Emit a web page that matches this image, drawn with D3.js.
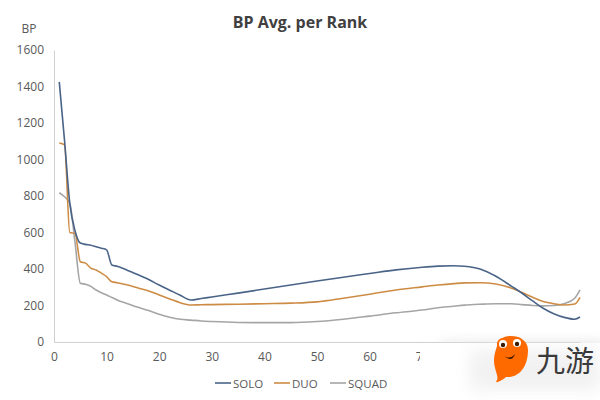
<!DOCTYPE html>
<html><head><meta charset="utf-8">
<script src="https://cdn.jsdelivr.net/npm/d3@7/dist/d3.min.js"></script>
<style>
body{margin:0;background:#fff;}
svg{display:block;font-family:"Open Sans","Noto Sans",sans-serif;}
</style></head>
<body><svg id="c" width="600" height="400"></svg>
<script>
const ranks = [1,2,3,4,5,6,7,8,9,10,11,12,14,16,18,20,22,24,26,28,30,35,40,45,50,55,60,65,70,73,76,78,81,84,87,89,91,93,95,97,99,100];
const solo  = [1425,1105,760,610,542,535,530,522,514,505,422,415,392,368,342,312,284,256,230,238,247,268,290,312,334,355,375,395,410,416,418,415,400,360,305,267,225,185,155,135,125,137];
const duo   = [1090,1080,600,595,440,432,405,395,377,358,330,325,312,296,280,258,236,215,203,204,205,207,210,213,220,240,262,285,302,312,320,324,325,318,295,271,245,222,210,203,208,245];
const squad = [818,796,760,545,322,316,305,285,270,258,244,230,210,190,172,152,136,125,120,115,112,107,106,106,112,125,142,160,175,188,196,202,207,210,210,205,200,198,200,210,240,285];
const yTicks = [0,200,400,600,800,1000,1200,1400,1600];
const xTicks = [0,10,20,30,40,50,60,70];
const seriesNames = ["SOLO","DUO","SQUAD"];
const colors = ["#4a6488","#cd8c45","#a5a5a5"];

const svg = d3.select("#c");
const x = d3.scaleLinear().domain([0,100]).range([54,580]);
const y = d3.scaleLinear().domain([0,1600]).range([342,50]);

svg.append("text").attr("x",300).attr("y",28).attr("text-anchor","middle")
  .attr("font-size",16).attr("font-weight","bold").attr("fill","#404040").text("BP Avg. per Rank");
svg.append("text").attr("x",29).attr("y",33).attr("text-anchor","middle")
  .attr("font-size",12).attr("fill","#595959").text("BP");

const ya = svg.append("g").attr("transform","translate(54,0)")
  .call(d3.axisLeft(y).tickValues(yTicks).tickSize(0).tickPadding(10).tickFormat(d3.format("d")));
ya.select(".domain").attr("stroke","#d0d0d0");
ya.selectAll("text").attr("font-size",12).attr("fill","#595959").attr("font-family","Open Sans, sans-serif");

const xa = svg.append("g").attr("transform","translate(0,342)")
  .call(d3.axisBottom(x).tickValues(xTicks).tickSize(0).tickPadding(10).tickFormat(d3.format("d")));
xa.select(".domain").attr("stroke","#d0d0d0");
xa.selectAll("text").attr("font-size",12).attr("fill","#595959").attr("font-family","Open Sans, sans-serif");

const data = [solo,duo,squad];
const line = d3.line().x((d,i)=>x(ranks[i])).y(d=>y(d)).curve(d3.curveMonotoneX);
[2,1,0].forEach(k=>{
  svg.append("path").datum(data[k]).attr("d",line).attr("fill","none")
    .attr("stroke",colors[k]).attr("stroke-width",1.6);
});

// legend
const lx = [215,274,330];
seriesNames.forEach((n,i)=>{
  svg.append("line").attr("x1",lx[i]).attr("x2",lx[i]+16).attr("y1",383).attr("y2",383)
    .attr("stroke",colors[i]).attr("stroke-width",1.6);
  svg.append("text").attr("x",lx[i]+18).attr("y",387.5).attr("font-size",11.5)
    .attr("fill","#595959").text(n);
});

// watermark overlay
const defs = svg.append("defs");
const f = defs.append("filter").attr("id","blur").attr("x","-20%").attr("y","-40%").attr("width","140%").attr("height","180%");
f.append("feGaussianBlur").attr("stdDeviation",8);
svg.append("rect").attr("x",440).attr("y",345).attr("width",170).attr("height",60).attr("fill","#ddd").attr("filter","url(#blur)");
svg.append("rect").attr("x",420).attr("y",343).attr("width",180).attr("height",57).attr("fill","#fff");
svg.append("rect").attr("x",470).attr("y",350).attr("width",130).attr("height",40).attr("fill","#e8e8e8").attr("filter","url(#blur)").attr("opacity",0.6);
const b = svg.append("g");
b.append("path").attr("d","M497,346 C497,332 528,332 528,350 C528,368 518,378 506,377 C500,382 494,384 497,380 C499,376 494,370 494,360 C494,354 496,350 497,346 Z").attr("fill","#ff6a00");
b.append("circle").attr("cx",503).attr("cy",344).attr("r",6).attr("fill","#ff6a00");
b.append("circle").attr("cx",517).attr("cy",343).attr("r",6).attr("fill","#ff6a00");
b.append("circle").attr("cx",503).attr("cy",344).attr("r",4).attr("fill","#fff");
b.append("circle").attr("cx",517).attr("cy",343).attr("r",4).attr("fill","#fff");
b.append("circle").attr("cx",503).attr("cy",345).attr("r",2.2).attr("fill","#3a1a00");
b.append("circle").attr("cx",517).attr("cy",344).attr("r",2.2).attr("fill","#3a1a00");
b.append("path").attr("d","M504,356 Q510,360 515,354 Q512,363 504,356 Z").attr("fill","#3a1a00");
svg.append("text").attr("x",536).attr("y",372).attr("font-size",29).attr("fill","#3a3a3a")
  .attr("font-family","Noto Sans CJK SC, sans-serif").text("九游");
</script></body></html>
